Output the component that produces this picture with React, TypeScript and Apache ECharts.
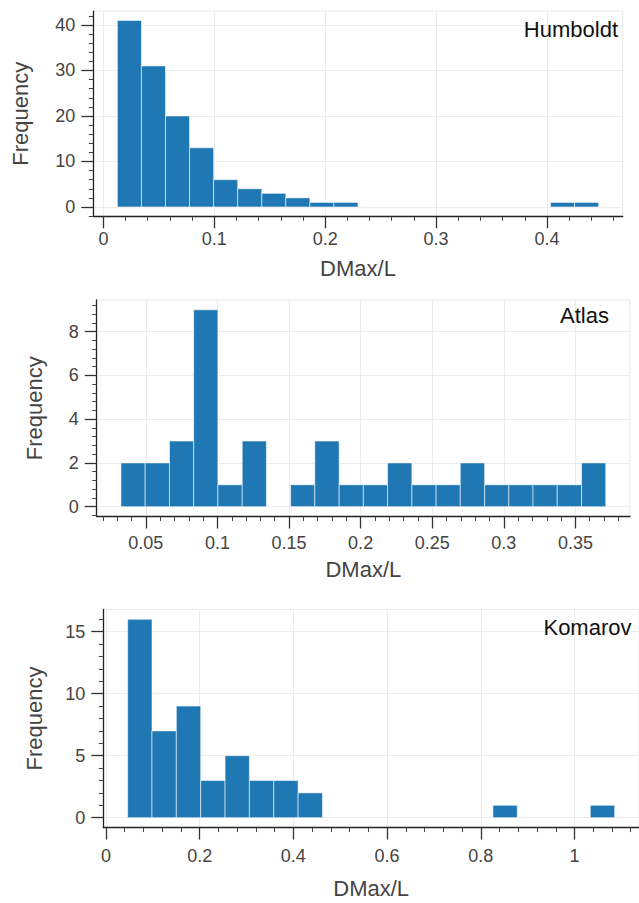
import React, { useEffect, useRef } from "react";
import * as echarts from "echarts";

// ---------- data ----------
const humboldtEdges = [0.0126, 0.0343, 0.056, 0.0777, 0.0994, 0.1211, 0.1428, 0.1645, 0.1862, 0.2079, 0.2296, 0.2513, 0.273, 0.2947, 0.3164, 0.3381, 0.3598, 0.3815, 0.4032, 0.4249, 0.4466];
const humboldtCounts = [41, 31, 20, 13, 6, 4, 3, 2, 1, 1, 0, 0, 0, 0, 0, 0, 0, 0, 1, 1];
const humboldtXTicks = [0, 0.1, 0.2, 0.3, 0.4];
const humboldtYTicks = [0, 10, 20, 30, 40];

const atlasEdges = [0.0326, 0.0495, 0.0665, 0.0834, 0.1003, 0.1173, 0.1342, 0.1511, 0.168, 0.185, 0.2019, 0.2188, 0.2358, 0.2527, 0.2696, 0.2866, 0.3035, 0.3204, 0.3373, 0.3543, 0.3712];
const atlasCounts = [2, 2, 3, 9, 1, 3, 0, 1, 3, 1, 1, 2, 1, 1, 2, 1, 1, 1, 1, 2];
const atlasXTicks = [0.05, 0.1, 0.15, 0.2, 0.25, 0.3, 0.35];
const atlasYTicks = [0, 2, 4, 6, 8];

const komarovEdges = [0.0463, 0.0983, 0.1502, 0.2022, 0.2542, 0.3061, 0.3581, 0.4101, 0.4621, 0.514, 0.566, 0.618, 0.67, 0.7219, 0.7739, 0.8259, 0.8778, 0.9298, 0.9818, 1.0337, 1.0857];
const komarovCounts = [16, 7, 9, 3, 5, 3, 3, 2, 0, 0, 0, 0, 0, 0, 0, 1, 0, 0, 0, 1];
const komarovXTicks = [0, 0.2, 0.4, 0.6, 0.8, 1];
const komarovYTicks = [0, 5, 10, 15];

const panelNames = ["Humboldt", "Atlas", "Komarov"];
const xTitle = "DMax/L";
const yTitle = "Frequency";

// ---------- layout / style ----------
const FONT = "'Liberation Sans', Arial, Helvetica, sans-serif";
const BAR = "#1f77b4";

const layouts = [
  { left: 93.3, top: 11.1, width: 529.4, height: 205.2, xLabelMargin: 14, xNameGap: 41, yNameGap: 62, titleX: 618, titleY: 29.7 },
  { left: 96.7, top: 300, width: 533.3, height: 216.5, xLabelMargin: 17.5, xNameGap: 42, yNameGap: 51, titleX: 609, titleY: 315 },
  { left: 103.3, top: 609.4, width: 537.7, height: 218.2, xLabelMargin: 19.5, xNameGap: 50, yNameGap: 57.5, titleX: 631.5, titleY: 627.4 },
];

const panels = [
  { edges: humboldtEdges, counts: humboldtCounts, xTicks: humboldtXTicks, yTicks: humboldtYTicks },
  { edges: atlasEdges, counts: atlasCounts, xTicks: atlasXTicks, yTicks: atlasYTicks },
  { edges: komarovEdges, counts: komarovCounts, xTicks: komarovXTicks, yTicks: komarovYTicks },
];

// Bokeh-like 10% range padding
function padRange(lo: number, hi: number) {
  const p = (hi - lo) * 0.05;
  return [lo - p, hi + p];
}

function minorTicks(majors: number[], lo: number, hi: number) {
  const step = (majors[1] - majors[0]) / 5;
  const out: number[] = [];
  const start = Math.ceil(lo / step - 1e-9);
  const end = Math.floor(hi / step + 1e-9);
  for (let k = start; k <= end; k++) {
    const v = Math.round(k * step * 1e6) / 1e6;
    if (majors.some((m) => Math.abs(m - v) < step * 1e-3)) continue;
    if (v < lo || v > hi) continue;
    out.push(v);
  }
  return out;
}

function buildOption() {
  const grid: any[] = [];
  const xAxis: any[] = [];
  const yAxis: any[] = [];
  const series: any[] = [];
  const graphic: any[] = [];

  panels.forEach((p, i) => {
    const L = layouts[i];
    const [xMin, xMax] = padRange(p.edges[0], p.edges[p.edges.length - 1]);
    const [yMin, yMax] = padRange(0, Math.max(...p.counts));

    grid.push({
      left: L.left,
      top: L.top,
      width: L.width,
      height: L.height,
      show: true,
      borderColor: "#e9e9e9",
      borderWidth: 1,
      backgroundColor: "transparent",
      containLabel: false,
    });

    const axisLineStyle = { color: "#222", width: 1.3 };
    const labelStyle = { fontSize: 18, color: "#444", fontFamily: FONT };
    const nameStyle = { fontSize: 22, color: "#444", fontFamily: FONT };

    // main x axis
    xAxis.push({
      gridIndex: i,
      type: "value",
      position: "bottom",
      min: xMin,
      max: xMax,
      name: xTitle,
      nameLocation: "middle",
      nameGap: L.xNameGap,
      nameTextStyle: nameStyle,
      axisLine: { show: true, onZero: false, lineStyle: axisLineStyle },
      axisTick: { show: true, customValues: p.xTicks, length: 12, lineStyle: { color: "#333", width: 1.3 } },
      axisLabel: { show: true, customValues: p.xTicks, margin: L.xLabelMargin, ...labelStyle },
      splitLine: { show: true, lineStyle: { color: "#ececec", width: 1 } },
      minorTick: { show: false },
    });
    // minor x ticks
    xAxis.push({
      gridIndex: i,
      type: "value",
      position: "bottom",
      min: xMin,
      max: xMax,
      axisLine: { show: false, onZero: false },
      axisTick: { show: true, customValues: minorTicks(p.xTicks, xMin, xMax), length: 4.5, lineStyle: { color: "#444", width: 1 } },
      axisLabel: { show: false },
      splitLine: { show: false },
    });

    // main y axis
    yAxis.push({
      gridIndex: i,
      type: "value",
      position: "left",
      min: yMin,
      max: yMax,
      name: yTitle,
      nameLocation: "middle",
      nameGap: L.yNameGap,
      nameTextStyle: nameStyle,
      axisLine: { show: true, onZero: false, lineStyle: axisLineStyle },
      axisTick: { show: true, customValues: p.yTicks, length: 12, lineStyle: { color: "#333", width: 1.3 } },
      axisLabel: { show: true, customValues: p.yTicks, margin: 18, ...labelStyle },
      splitLine: { show: true, lineStyle: { color: "#ececec", width: 1 } },
    });
    // minor y ticks
    yAxis.push({
      gridIndex: i,
      type: "value",
      position: "left",
      min: yMin,
      max: yMax,
      axisLine: { show: false, onZero: false },
      axisTick: { show: true, customValues: minorTicks(p.yTicks, yMin, yMax), length: 4.5, lineStyle: { color: "#444", width: 1 } },
      axisLabel: { show: false },
      splitLine: { show: false },
    });

    const data = p.counts
      .map((c, k) => [p.edges[k], p.edges[k + 1], c])
      .filter((d) => d[2] > 0);

    series.push({
      type: "custom",
      xAxisIndex: i * 2,
      yAxisIndex: i * 2,
      encode: { x: [0, 1], y: 2 },
      data,
      renderItem: (params: any, api: any) => {
        const x0 = api.value(0);
        const x1 = api.value(1);
        const c = api.value(2);
        const pTop = api.coord([x0, c]);
        const pBot = api.coord([x1, 0]);
        return {
          type: "rect",
          shape: { x: pTop[0], y: pTop[1], width: pBot[0] - pTop[0], height: pBot[1] - pTop[1] },
          style: { fill: BAR, stroke: "rgba(255,255,255,0.55)", lineWidth: 1 },
        };
      },
    });

    graphic.push({
      type: "text",
      x: L.titleX,
      y: L.titleY,
      style: {
        text: panelNames[i],
        align: "right",
        verticalAlign: "middle",
        fontSize: 22,
        fontFamily: FONT,
        fill: "#111",
      },
      z: 10,
    });
  });

  return {
    animation: false,
    backgroundColor: "#ffffff",
    grid,
    xAxis,
    yAxis,
    series,
    graphic,
  };
}

export default function App() {
  const ref = useRef<HTMLDivElement>(null);
  useEffect(() => {
    if (!ref.current) return;
    const chart = echarts.init(ref.current, undefined, { renderer: "svg" });
    chart.setOption(buildOption() as any);
    return () => {
      chart.dispose();
    };
  }, []);
  return (
    <div
      ref={ref}
      style={{ position: "absolute", left: 0, top: 0, width: 639, height: 903, background: "#fff" }}
    />
  );
}
